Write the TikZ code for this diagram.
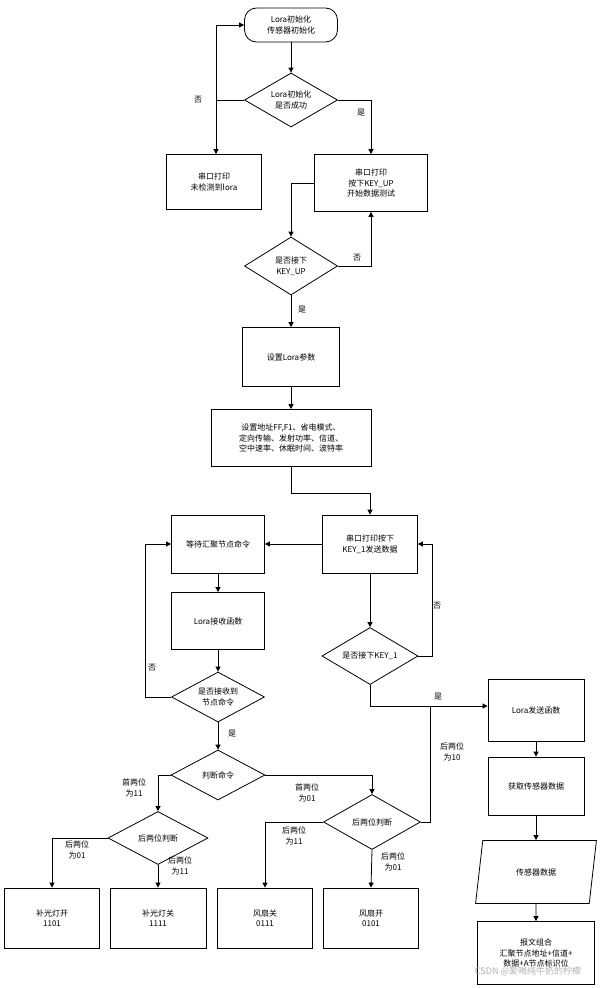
\documentclass[tikz,border=0pt]{standalone}
\usepackage{fontspec}
\setmainfont{Noto Sans CJK SC}
\usetikzlibrary{shapes.geometric,arrows.meta}
\begin{document}
\begin{tikzpicture}[x=1pt,y=-1pt,font=\fontsize{8}{10.5}\selectfont,
 box/.style={draw,thick,align=center,inner sep=0pt},
 dia/.style={draw,thick,diamond,aspect=1.7,align=center,inner sep=0pt},
 lbl/.style={align=center,inner sep=1pt},
 ar/.style={thick,-{Triangle[length=5pt,width=5pt]}},
 ln/.style={thick}]
\useasboundingbox (0,0) rectangle (601,988);
\fill[white] (0,0) rectangle (601,988);
\node[box,rounded corners=12pt,minimum width=93,minimum height=34] (s) at (291,25) {Lora初始化\\传感器初始化};
\node[dia,minimum width=93,minimum height=54] (d1) at (291,100) {Lora初始化\\是否成功};
\node[box,minimum width=95,minimum height=55] (b1) at (214,182) {串口打印\\未检测到lora};
\node[box,minimum width=113,minimum height=57] (b2) at (371,183) {串口打印\\按下KEY\_UP\\开始数据测试};
\node[dia,minimum width=93,minimum height=58] (d2) at (291,266) {是否接下\\KEY\_UP};
\node[box,minimum width=97,minimum height=59] (b3) at (291,357) {设置Lora参数};
\node[box,minimum width=160,minimum height=57] (b4) at (291,438) {设置地址FF,F1、省电模式、\\定向传输、发射功率、信道、\\空中速率、休眠时间、波特率};
\node[box,minimum width=95,minimum height=58] (b5) at (370,544) {串口打印按下\\KEY\_1发送数据};
\node[box,minimum width=93,minimum height=58] (b6) at (218,544) {等待汇聚节点命令};
\node[box,minimum width=93,minimum height=57] (b7) at (218,621) {Lora接收函数};
\node[dia,minimum width=93,minimum height=50] (d3) at (218,697) {是否接收到\\节点命令};
\node[dia,minimum width=94,minimum height=50] (d4) at (218,775) {判断命令};
\node[dia,minimum width=100,minimum height=53] (d5) at (158,838) {后两位判断};
\node[dia,minimum width=97,minimum height=55] (d6) at (372,822) {后两位判断};
\node[dia,minimum width=96,minimum height=57] (d7) at (370,656) {是否接下KEY\_1};
\node[box,minimum width=95,minimum height=60] (o1) at (52,918) {补光灯开\\1101};
\node[box,minimum width=96,minimum height=60] (o2) at (158,918) {补光灯关\\1111};
\node[box,minimum width=95,minimum height=60] (o3) at (265,918) {风扇关\\0111};
\node[box,minimum width=95,minimum height=60] (o4) at (371,918) {风扇开\\0101};
\node[box,minimum width=96,minimum height=62] (r1) at (536,710) {Lora发送函数};
\node[box,minimum width=96,minimum height=58] (r2) at (536,786) {获取传感器数据};
\node[draw,thick,trapezium,trapezium left angle=70,trapezium right angle=110,minimum width=121,minimum height=63,inner sep=0pt,trapezium stretches=true] (r3) at (536,872) {传感器数据};
\node[box,minimum width=117,minimum height=63] (r4) at (536,953) {报文组合\\汇聚节点地址+信道+\\数据+A节点标识位};
\node[text=gray!60,font=\fontsize{9}{10}\selectfont] (wm) at (528,971) {CSDN @爱喝纯牛奶的柠檬};
\coordinate (c1) at (216,100);
\draw[ar] (s) -- (d1);
\draw[ar] (d1.west) -- (c1) -- (c1 |- b1.north);
\draw[ar] (c1) -- (216,25) -- (s.west);
\node[lbl] (n1) at (198,100) {否};
\draw[ar] (d1.east) -- (371,100) -- (b2.north);
\node[lbl] (y1) at (361,113) {是};
\draw[ar] (b2.west) -- (291,183) -- (d2.north);
\draw[ar] (d2.east) -- (371,266) -- (b2.south);
\node[lbl] (n2) at (357,258) {否};
\draw[ar] (d2) -- (b3);
\node[lbl] (y2) at (302,310) {是};
\draw[ar] (b3) -- (b4);
\draw[ar] (b4.south) -- (291,493) -- (370,493) -- (b5.north);
\draw[ar] (b5) -- (b6);
\draw[ar] (b6) -- (b7);
\draw[ar] (b7) -- (d3);
\draw[ar] (d3.west) -- (145,697) -- (145,544) -- (b6.west);
\node[lbl] (n3) at (152,668) {否};
\draw[ar] (d3) -- (d4);
\node[lbl] (y3) at (232,734) {是};
\draw[ar] (d4.west) -- (158,775) -- (d5.north);
\node[lbl] (l1) at (134,788) {首两位\\为11};
\draw[ar] (d4.east) -- (372,775) -- (d6.north);
\node[lbl] (l2) at (307,793) {首两位\\为01};
\draw[ar] (d5.west) -- (52,838) -- (o1.north);
\node[lbl] (l3) at (77,850) {后两位\\为01};
\draw[ar] (d5.south) -- (o2.north);
\node[lbl] (l4) at (180,866) {后两位\\为11};
\draw[ar] (d6.west) -- (265,822) -- (o3.north);
\node[lbl] (l5) at (294,836) {后两位\\为11};
\draw[ar] (d6.south) -- (o4.north);
\node[lbl] (l6) at (393,862) {后两位\\为01};
\draw[ln] (d6.east) -- (430,822) -- (430,706);
\node[lbl] (l7) at (452,752) {后两位\\为10};
\draw[ar] (b5) -- (d7);
\draw[ar] (d7.east) -- (432,656) -- (432,544) -- (b5.east);
\node[lbl] (n4) at (437,606) {否};
\draw[ar] (d7.south) -- (370,706) -- (r1.west |- 0,706);
\node[lbl] (y4) at (438,697) {是};
\draw[ar] (r1) -- (r2);
\draw[ar] (r2) -- (r3);
\draw[ar] (r3) -- (r4);
\end{tikzpicture}
\end{document}
